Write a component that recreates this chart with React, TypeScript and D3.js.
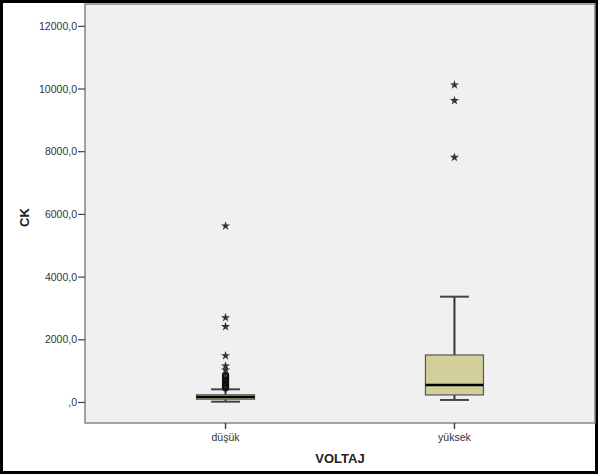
import * as d3 from "d3";

const categories = ["düşük", "yüksek"];
const whiskerLow = [25, 80];
const q1 = [105, 240];
const medians = [175, 560];
const q3 = [245, 1515];
const whiskerHigh = [420, 3375];
// circles (mild outliers)
const mildOutliers = [[470, 510, 550, 590, 630, 670, 710, 750, 790, 830, 870], []];
// stars (extreme outliers)
const extremeOutliers = [[1035, 1165, 1490, 2420, 2705, 5630], [7820, 9630, 10130]];
const yTicks = [0, 2000, 4000, 6000, 8000, 10000, 12000];

const W = 598;
const H = 474;

export default function App() {
  const plot = { left: 85, right: 595, top: 4, bottom: 423 };
  const y = d3.scaleLinear().domain([-655, 12712]).range([plot.bottom, plot.top]);
  const x = d3
    .scalePoint<string>()
    .domain(categories)
    .range([plot.left, plot.right])
    .padding(0.614);
  const boxW = 58;
  const capW = 29;
  const star = d3.symbol(d3.symbolStar, 26)()!;
  const font = "'Liberation Sans', Arial, sans-serif";

  return (
    <svg
      width={W}
      height={H}
      style={{ position: "absolute", left: 0, top: 0, background: "#fff" }}
      fontFamily={font}
    >
      <rect x={1.5} y={1.5} width={W - 3} height={H - 3} fill="none" stroke="#000" strokeWidth={3} />
      <rect
        x={plot.left}
        y={plot.top}
        width={plot.right - plot.left}
        height={plot.bottom - plot.top}
        fill="#f0f0f0"
        stroke="#858585"
        strokeWidth={1.5}
      />

      {/* Y axis */}
      {yTicks.map((t) => (
        <g key={t} transform={`translate(0,${y(t)})`}>
          <line x1={78} x2={plot.left} stroke="#444" strokeWidth={1.2} />
          <text x={77} dy="0.35em" textAnchor="end" fontSize={10.5} fill="#333">
            {t === 0 ? ",0" : `${t},0`}
          </text>
        </g>
      ))}
      <text
        transform={`translate(29,${(plot.top + plot.bottom) / 2 + 4}) rotate(-90)`}
        textAnchor="middle"
        fontSize={13}
        fontWeight="bold"
        fill="#222"
      >
        CK
      </text>

      {/* X axis */}
      {categories.map((c) => (
        <g key={c} transform={`translate(${x(c)},0)`}>
          <line y1={plot.bottom} y2={plot.bottom + 6} stroke="#444" strokeWidth={1.5} />
          <text y={441} textAnchor="middle" fontSize={10.5} fill="#333">
            {c}
          </text>
        </g>
      ))}
      <text x={(plot.left + plot.right) / 2} y={463} textAnchor="middle" fontSize={13} fontWeight="bold" fill="#222">
        VOLTAJ
      </text>

      {/* Boxes */}
      {categories.map((c, i) => {
        const cx = x(c)!;
        return (
          <g key={c}>
            <line x1={cx} x2={cx} y1={y(whiskerHigh[i])} y2={y(q3[i])} stroke="#333" strokeWidth={2} />
            <line x1={cx} x2={cx} y1={y(q1[i])} y2={y(whiskerLow[i])} stroke="#333" strokeWidth={2} />
            <line x1={cx - capW / 2} x2={cx + capW / 2} y1={y(whiskerHigh[i])} y2={y(whiskerHigh[i])} stroke="#444" strokeWidth={2} />
            <line x1={cx - capW / 2} x2={cx + capW / 2} y1={y(whiskerLow[i])} y2={y(whiskerLow[i])} stroke="#444" strokeWidth={2} />
            <rect
              x={cx - boxW / 2}
              y={y(q3[i])}
              width={boxW}
              height={y(q1[i]) - y(q3[i])}
              fill="#d3cf9b"
              stroke="#555"
              strokeWidth={1.2}
            />
            <line x1={cx - boxW / 2} x2={cx + boxW / 2} y1={y(medians[i])} y2={y(medians[i])} stroke="#000" strokeWidth={2.5} />
            {mildOutliers[i].map((v) => (
              <circle key={v} cx={cx} cy={y(v)} r={3} fill="none" stroke="#111" strokeWidth={1.3} />
            ))}
            {extremeOutliers[i].map((v) => (
              <path key={v} d={star} transform={`translate(${cx},${y(v)})`} fill="#333" />
            ))}
          </g>
        );
      })}
    </svg>
  );
}
